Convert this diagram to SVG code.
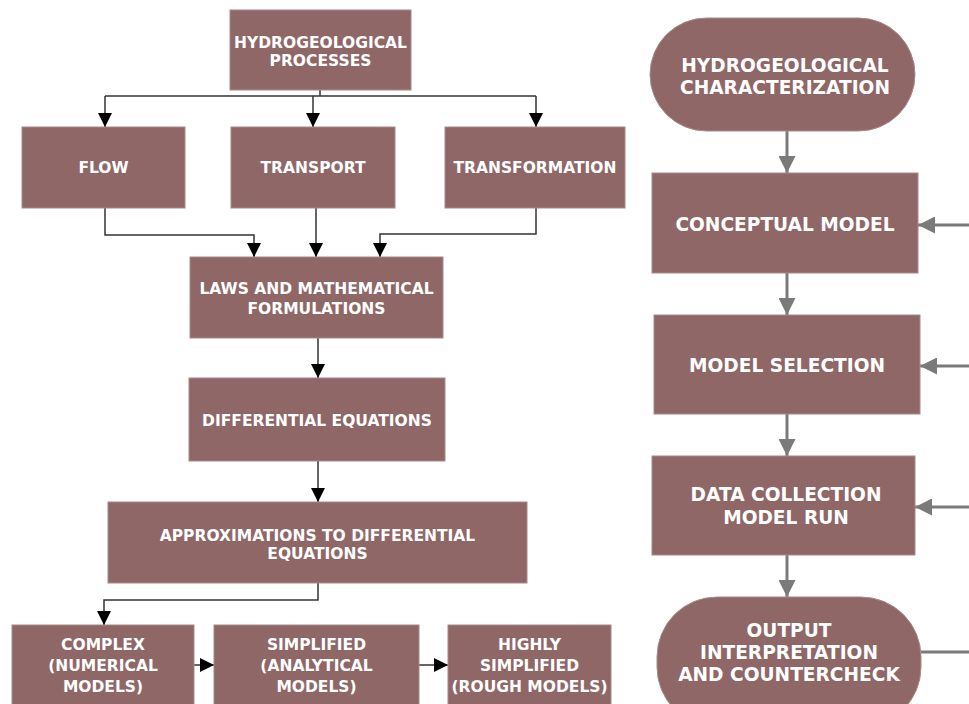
<svg xmlns="http://www.w3.org/2000/svg" width="969" height="704" viewBox="0 0 969 704">
<defs>
<style>
.n{fill:#8f6767;stroke:#a88a8a;stroke-width:1}
.t{fill:#ffffff;font-family:"DejaVu Sans",Verdana,sans-serif;font-weight:bold;font-size:15.5px;text-anchor:middle}
.tr{fill:#ffffff;font-family:"DejaVu Sans",Verdana,sans-serif;font-weight:bold;font-size:18.6px;text-anchor:middle}
.c{fill:none;stroke:#333333;stroke-width:1.5}
.g{fill:none;stroke:#7a7a7a;stroke-width:3}
</style>
<marker id="ab" viewBox="0 0 10 10" refX="10" refY="5" markerWidth="14" markerHeight="14" markerUnits="userSpaceOnUse" orient="auto"><path d="M0,0 L10,5 L0,10 Z" fill="#000"/></marker>
<marker id="ag" viewBox="0 0 10 10" refX="10" refY="5" markerWidth="17" markerHeight="17" markerUnits="userSpaceOnUse" orient="auto"><path d="M0,0 L10,5 L0,10 Z" fill="#7a7a7a"/></marker>
</defs>
<rect width="969" height="704" fill="#ffffff"/>
<g id="connectors">
<path class="c" d="M320,90 V96"/>
<path class="c" d="M105,96 H536"/>
<path class="c" d="M105,96 V127" marker-end="url(#ab)"/>
<path class="c" d="M313,96 V127" marker-end="url(#ab)"/>
<path class="c" d="M536,96 V127" marker-end="url(#ab)"/>
<path class="c" d="M105,208 V235 H254 V257" marker-end="url(#ab)"/>
<path class="c" d="M316,208 V257" marker-end="url(#ab)"/>
<path class="c" d="M536,208 V234 H380 V257" marker-end="url(#ab)"/>
<path class="c" d="M318,338 V378" marker-end="url(#ab)"/>
<path class="c" d="M318,461 V502" marker-end="url(#ab)"/>
<path class="c" d="M318,583 V600 H104 V625" marker-end="url(#ab)"/>
<path class="c" d="M194,665 H214" marker-end="url(#ab)"/>
<path class="c" d="M419,665 H448" marker-end="url(#ab)"/>
<path class="g" d="M787,131 V173" marker-end="url(#ag)"/>
<path class="g" d="M787,273 V315" marker-end="url(#ag)"/>
<path class="g" d="M787,414 V456" marker-end="url(#ag)"/>
<path class="g" d="M787,555 V597" marker-end="url(#ag)"/>
<path class="g" d="M969,225 H918" marker-end="url(#ag)"/>
<path class="g" d="M969,366 H920" marker-end="url(#ag)"/>
<path class="g" d="M969,507 H915" marker-end="url(#ag)"/>
<path class="g" d="M921,652 H969"/>
</g>
<g id="hydro-processes"><rect class="n" x="230" y="10" width="181" height="80"/><text class="t" x="320.5" y="48">HYDROGEOLOGICAL</text><text class="t" x="320.5" y="66">PROCESSES</text></g>
<g id="flow"><rect class="n" x="22" y="127" width="163" height="81"/><text class="t" x="103.5" y="173">FLOW</text></g>
<g id="transport"><rect class="n" x="231" y="127" width="164" height="81"/><text class="t" x="313" y="173">TRANSPORT</text></g>
<g id="transformation"><rect class="n" x="445" y="127" width="180" height="81"/><text class="t" x="535" y="173">TRANSFORMATION</text></g>
<g id="laws"><rect class="n" x="190" y="257" width="253" height="81"/><text class="t" x="316.5" y="294">LAWS AND MATHEMATICAL</text><text class="t" x="316.5" y="314">FORMULATIONS</text></g>
<g id="diff-eq"><rect class="n" x="189" y="378" width="256" height="83"/><text class="t" x="317" y="426">DIFFERENTIAL EQUATIONS</text></g>
<g id="approx"><rect class="n" x="108" y="502" width="419" height="81"/><text class="t" x="317.5" y="541">APPROXIMATIONS TO DIFFERENTIAL</text><text class="t" x="317.5" y="559">EQUATIONS</text></g>
<g id="complex"><rect class="n" x="12" y="625" width="182" height="85"/><text class="t" x="103" y="650">COMPLEX</text><text class="t" x="103" y="671">(NUMERICAL</text><text class="t" x="103" y="692">MODELS)</text></g>
<g id="simplified"><rect class="n" x="214" y="625" width="205" height="85"/><text class="t" x="316.5" y="650">SIMPLIFIED</text><text class="t" x="316.5" y="671">(ANALYTICAL</text><text class="t" x="316.5" y="692">MODELS)</text></g>
<g id="highly"><rect class="n" x="448" y="625" width="163" height="85"/><text class="t" x="529.5" y="650">HIGHLY</text><text class="t" x="529.5" y="671">SIMPLIFIED</text><text class="t" x="529.5" y="692">(ROUGH MODELS)</text></g>
<g id="hydro-char"><rect class="n" x="650" y="18" width="265" height="113" rx="56.5"/><text class="tr" x="785" y="72">HYDROGEOLOGICAL</text><text class="tr" x="785" y="94">CHARACTERIZATION</text></g>
<g id="conceptual"><rect class="n" x="652" y="173" width="266" height="100"/><text class="tr" x="785" y="231">CONCEPTUAL MODEL</text></g>
<g id="model-selection"><rect class="n" x="654" y="315" width="266" height="99"/><text class="tr" x="787" y="372">MODEL SELECTION</text></g>
<g id="data-collection"><rect class="n" x="652" y="456" width="263" height="99"/><text class="tr" x="786" y="501">DATA COLLECTION</text><text class="tr" x="786" y="524">MODEL RUN</text></g>
<g id="output"><rect class="n" x="657" y="597" width="264" height="130" rx="60"/><text class="tr" x="789" y="637">OUTPUT</text><text class="tr" x="789" y="659">INTERPRETATION</text><text class="tr" x="789" y="681">AND COUNTERCHECK</text></g>
</svg>
